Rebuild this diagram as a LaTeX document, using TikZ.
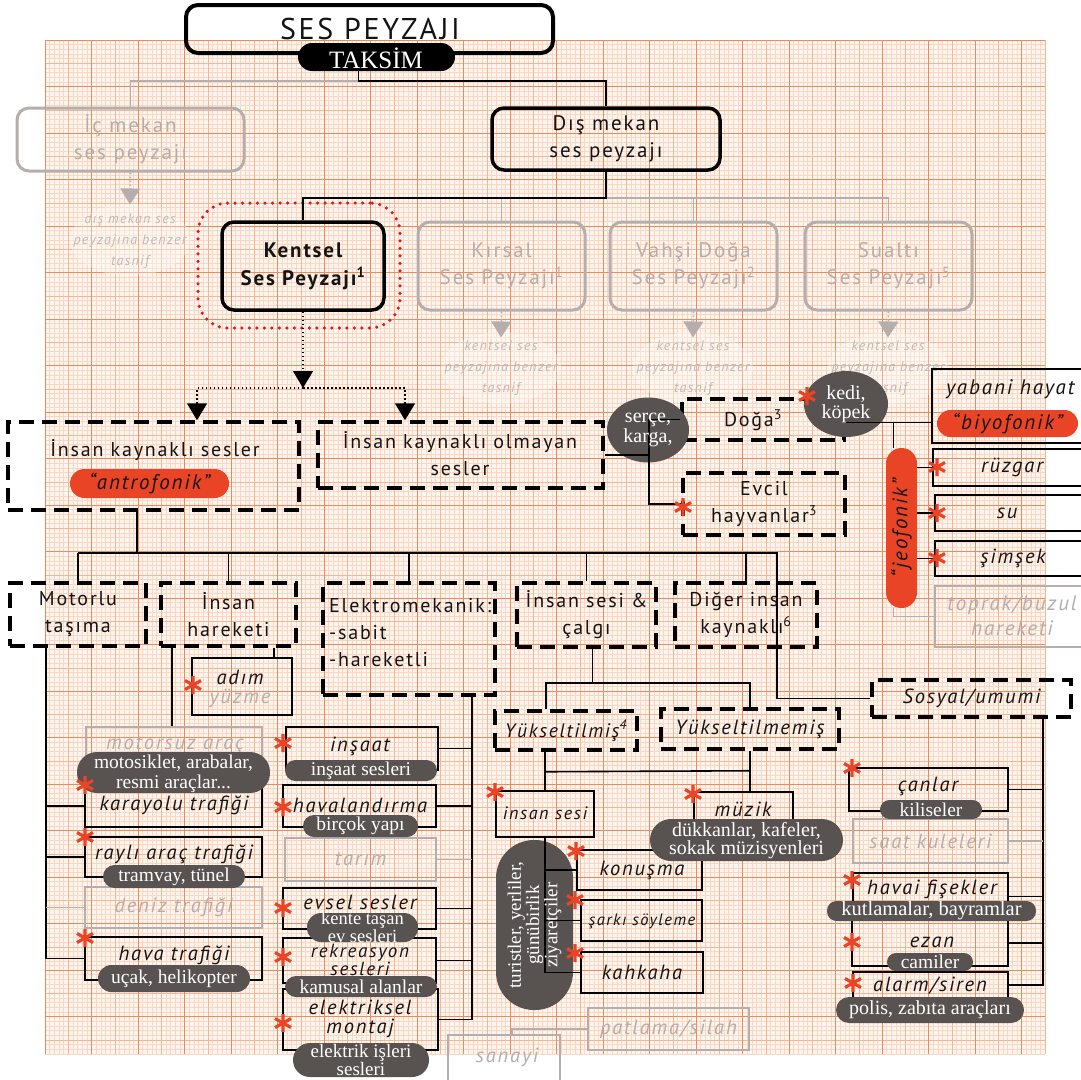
\documentclass[tikz,border=0pt]{standalone}
\usepackage{fontspec}
\setmainfont{PT Sans}[LetterSpace=9]
\newfontfamily\serifp{Liberation Serif}
\usetikzlibrary{fit,calc,shapes.geometric,arrows.meta}
\definecolor{gfine}{RGB}{250,214,195}
\definecolor{gmid}{RGB}{245,182,148}
\definecolor{gmaj}{RGB}{236,138,92}
\definecolor{gbg}{RGB}{254,245,239}
\definecolor{redor}{RGB}{233,68,38}
\definecolor{pillg}{RGB}{88,82,80}
\definecolor{fadeg}{RGB}{180,174,172}
\definecolor{hlred}{RGB}{222,22,32}
\tikzset{
  sbox/.style={draw=black, line width=1.8pt, inner sep=0pt},
  rbox/.style={draw=black, line width=3.5pt, rounded corners=12pt, inner sep=0pt},
  fbox/.style={draw=fadeg, line width=3pt, rounded corners=12pt, inner sep=0pt},
  dbox/.style={draw=black, line width=3.5pt, dash pattern=on 15pt off 8pt, inner sep=0pt},
  flbox/.style={draw=fadeg, line width=1.5pt, inner sep=0pt},
  gpill/.style={fill=pillg, inner sep=0pt},
  rpill/.style={fill=redor, inner sep=0pt},
  con/.style={draw=black, line width=1.6pt},
  fcon/.style={draw=fadeg, line width=1.6pt},
  dotarr/.style={draw=black, line width=1.6pt, dash pattern=on 1.5pt off 2.5pt, -{Triangle[width=20pt,length=17pt]}},
  fdotarr/.style={draw=fadeg, line width=1.6pt, dash pattern=on 1.5pt off 2.5pt, -{Triangle[width=20pt,length=16pt]}},
  tx/.style={inner sep=0pt, align=center, text=black!92, font=\fontsize{20}{27}\selectfont},
  fbx/.style={inner sep=0pt, align=center, text=fadeg, font=\fontsize{21}{27}\selectfont},
  ix/.style={inner sep=0pt, align=center, text=black!92, font=\fontsize{20.5}{21}\selectfont\itshape},
  fix/.style={inner sep=0pt, align=center, text=fadeg, font=\fontsize{20.5}{21}\selectfont\itshape},
  fsx/.style={inner sep=0pt, align=center, text=fadeg!85, font=\fontsize{14}{21}\selectfont\itshape},
  sx/.style={inner sep=0pt, align=center, text=white, font=\serifp\fontsize{19.5}{15}\selectfont},
  haze/.style={ellipse, fill=white, opacity=0.3, inner sep=0pt},
  astr/.pic={\draw[redor, line width=3.2pt] (0,-9)--(0,9) (-8,-4.5)--(8,4.5) (-8,4.5)--(8,-4.5);}
}
\begin{document}
\begin{tikzpicture}[x=1pt,y=-1pt]
\useasboundingbox (0,0) rectangle (1081,1079);
\clip (0,0) rectangle (1081,1079);
\fill[white] (0,0) rectangle (1081,1079);
% ---------------- graph paper
\fill[gbg] (45,40) rectangle (1045,1054);
\foreach \i in {0,...,215} \draw[gfine, line width=0.35pt] ({45+4.65*\i},40) -- ({45+4.65*\i},1054);
\foreach \j in {0,...,218} \draw[gfine, line width=0.35pt] (45,{40+4.65*\j}) -- (1045,{40+4.65*\j});
\foreach \i in {0,...,43} \draw[gmid, line width=0.5pt] ({45+23.25*\i},40) -- ({45+23.25*\i},1054);
\foreach \j in {0,...,43} \draw[gmid, line width=0.5pt] (45,{40+23.25*\j}) -- (1045,{40+23.25*\j});
\foreach \i in {0,...,21} \draw[gmaj, line width=0.8pt] ({45+46.5*\i},40) -- ({45+46.5*\i},1054);
\foreach \j in {0,...,21} \draw[gmaj, line width=0.8pt] (45,{40+46.5*\j}) -- (1045,{40+46.5*\j});

% ---------------- faded (greyed) branches
\node[fbox, fit={(17,108)(244,171)}] (ic) {};
\node[fbox, fit={(418,222)(585,310)}] (kirsal) {};
\node[fbox, fit={(610,222)(777,310)}] (vahsi) {};
\node[fbox, fit={(805,222)(972,310)}] (sualti) {};
\node[haze, minimum width=120pt, minimum height=72pt] (haze-ic) at (130,240) {};
\node[haze, minimum width=120pt, minimum height=72pt] (haze-k) at (501,368) {};
\node[haze, minimum width=120pt, minimum height=72pt] (haze-v) at (693,368) {};
\node[haze, minimum width=120pt, minimum height=72pt] (haze-s) at (888,368) {};
\node[fbx] (ic-t) at (ic.center) {İç mekan\\ses peyzajı};
\node[fbx] (kirsal-t) at (kirsal.center) {Kırsal\\Ses Peyzajı\textsuperscript{1}};
\node[fbx] (vahsi-t) at (vahsi.center) {Vahşi Doğa\\Ses Peyzajı\textsuperscript{2}};
\node[fbx] (sualti-t) at (sualti.center) {Sualtı\\Ses Peyzajı\textsuperscript{5}};
\node[fsx] (ic-n) at (130,241) {dış mekan ses\\peyzajına benzer\\tasnif};
\node[fsx] (kirsal-n) at (501,368) {kentsel ses\\peyzajına benzer\\tasnif};
\node[fsx] (vahsi-n) at (693,368) {kentsel ses\\peyzajına benzer\\tasnif};
\node[fsx] (sualti-n) at (888,368) {kentsel ses\\peyzajına benzer\\tasnif};
\draw[fdotarr] (ic.south) -- ([yshift=9pt]ic-n.north);
\draw[fdotarr] (kirsal.south) -- ([yshift=3pt]kirsal-n.north);
\draw[fdotarr] (vahsi.south) -- ([yshift=3pt]vahsi-n.north);
\draw[fdotarr] (sualti.south) -- ([yshift=3pt]sualti-n.north);

% faded leaves
\node[flbox, fit={(86,727)(262,770)}] (motorsuz) {};
\node[fix] (motorsuz-t) at (175,745) {motorsuz araç};
\node[flbox, fit={(85,887)(262,928)}] (deniz) {};
\node[fix] (deniz-t) at (deniz.center) {deniz trafiği};
\node[flbox, fit={(285,838)(436,881)}] (tarim) {};
\node[fix] (tarim-t) at (tarim.center) {tarım};
\node[flbox, fit={(853,819)(1008,863)}] (saat) {};
\node[fix] (saat-t) at (saat.center) {saat kuleleri};
\node[flbox, fit={(935,586)(1100,647)}] (toprak) {};
\node[fix, font=\fontsize{21}{25}\selectfont\itshape] (toprak-t) at (1012,616) {toprak/buzul\\hareketi};
\node[flbox, fit={(588,1008)(749,1050)}] (patlama) {};
\node[fix] (patlama-t) at (patlama.center) {patlama/silah};
\node[flbox, fit={(448,1035)(560,1095)}] (sanayi) {};
\node[fix] (sanayi-t) at (507,1057) {sanayi};

% ---------------- title
\node[rbox, line width=4pt, fit={(186,5)(553,53)}] (title) {};
\node[tx, font=\fontsize{30}{30}\selectfont] (title-t) at (370,29) {SES PEYZAJI};
\node[fill=black, rounded corners=14pt, inner sep=0pt, fit={(298,43)(455,71)}] (taksim) {};
\node[sx, font=\serifp\fontsize{25}{25}\selectfont] (taksim-t) at (376,58) {TAKSİM};

% ---------------- level 1-2
\node[rbox, fit={(492,108)(720,170)}] (dis) {};
\node[tx, font=\fontsize{21}{27}\selectfont] (dis-t) at (dis.center) {Dış mekan\\ses peyzajı};
\node[rbox, fit={(222,222)(384,310)}] (kentsel) {};
\node[tx, font=\fontsize{21}{28}\selectfont\bfseries] (kentsel-t) at (kentsel.center) {Kentsel\\Ses Peyzajı\textsuperscript{1}};
\node[draw=hlred, line width=3.5pt, dash pattern=on 0pt off 7.5pt, line cap=round, rounded corners=30pt, inner sep=0pt, fit={(198,203)(400,328)}] (kentsel-hl) {};

% ---------------- level 3
\node[dbox, fit={(8,422)(299,510)}] (ik) {};
\node[tx] (ik-t) at (155,450) {İnsan kaynaklı sesler};
\node[rpill, rounded corners=14.5pt, fit={(70,469)(229,498)}] (antro) {};
\node[ix, font=\fontsize{21}{21}\selectfont\itshape] (antro-t) at (antro.center) {“antrofonik”};
\node[dbox, fit={(318,422)(603,488)}] (iko) {};
\node[tx] (iko-t) at (460,454) {İnsan kaynaklı olmayan\\sesler};
\node[dbox, fit={(682,399)(844,440)}] (doga) {};
\node[tx] (doga-t) at (753,420) {Doğa\textsuperscript{3}};
\node[dbox, fit={(683,473)(845,535)}] (evcil) {};
\node[tx] (evcil-t) at (764,504) {Evcil\\hayvanlar\textsuperscript{3}};
\node[ellipse, fill=pillg, minimum width=82pt, minimum height=65pt, inner sep=0pt] (serce) at (648,430) {};
\node[ellipse, fill=pillg, minimum width=84pt, minimum height=66pt, inner sep=0pt] (kedi) at (846,404) {};
\node[sbox, fit={(932,369)(1100,443)}] (yabani) {};
\node[ix, font=\fontsize{21}{21}\selectfont\itshape, anchor=west] (yabani-t) at (946,389) {yabani hayat};
\node[rpill, rounded corners=13.5pt, fit={(937,410)(1078,437)}] (biyo) {};
\node[ix, font=\fontsize{21}{21}\selectfont\itshape] (biyo-t) at (biyo.center) {“biyofonik”};
\node[rpill, rounded corners=15.5pt, fit={(886,448)(917,608)}] (jeo) {};
\node[ix, font=\fontsize{21}{21}\selectfont\itshape, rotate=90] (jeo-t) at (jeo.center) {“jeofonik”};
\node[sbox, fit={(933,449)(1100,486)}] (ruzgar) {};
\node[ix] (ruzgar-t) at (1012,467) {rüzgar};
\node[sbox, fit={(935,495)(1100,531)}] (su) {};
\node[ix] (su-t) at (1007,513) {su};
\node[sbox, fit={(935,541)(1100,576)}] (simsek) {};
\node[ix] (simsek-t) at (1013,558) {şimşek};

% ---------------- level 4
\node[dbox, fit={(10,583)(146,646)}] (motorlu) {};
\node[tx] (motorlu-t) at (motorlu.center) {Motorlu\\taşıma};
\node[dbox, fit={(161,583)(296,646)}] (hareket) {};
\node[tx] (hareket-t) at (hareket.center) {İnsan\\hareketi};
\node[dbox, fit={(323,583)(495,695)}] (elektro) {};
\node[tx, align=left, anchor=west] (elektro-t) at (329,633) {Elektromekanik:\\-sabit\\-hareketli};
\node[dbox, fit={(517,583)(656,647)}] (insesi) {};
\node[tx] (insesi-t) at (insesi.center) {İnsan sesi \&\\çalgı};
\node[dbox, fit={(675,583)(817,647)}] (diger) {};
\node[tx] (diger-t) at (diger.center) {Diğer insan\\kaynaklı\textsuperscript{6}};
\node[dbox, fit={(872,680)(1071,717)}] (sosyal) {};
\node[ix] (sosyal-t) at (sosyal.center) {Sosyal/umumi};
\node[dbox, fit={(495,711)(637,750)}] (yuk) {};
\node[ix, font=\fontsize{19.5}{21}\selectfont\itshape] (yuk-t) at (yuk.center) {Yükseltilmiş\textsuperscript{4}};
\node[dbox, fit={(661,709)(839,749)}] (yukm) {};
\node[ix] (yukm-t) at (yukm.center) {Yükseltilmemiş};

% ---------------- leaves
\node[sbox, fit={(192,658)(292,715)}] (adim) {};
\node[sbox, fit={(85,785)(262,827)}] (karayolu) {};
\node[sbox, fit={(85,837)(262,877)}] (rayli) {};
\node[sbox, fit={(85,937)(262,980)}] (hava) {};
\node[sbox, fit={(286,727)(438,770)}] (insaat) {};
\node[sbox, fit={(283,785)(436,827)}] (havaland) {};
\node[sbox, fit={(283,888)(436,929)}] (evsel) {};
\node[sbox, fit={(283,938)(436,983)}] (rekre) {};
\node[sbox, fit={(283,989)(438,1050)}] (elekt) {};
\node[sbox, fit={(496,791)(594,837)}] (insan) {};
\node[sbox, fit={(694,792)(793,830)}] (muzik) {};
\node[sbox, fit={(577,850)(702,890)}] (konusma) {};
\node[sbox, fit={(581,900)(702,941)}] (sarki) {};
\node[sbox, fit={(581,952)(703,993)}] (kahkaha) {};
\node[sbox, fit={(849,768)(1008,811)}] (canlar) {};
\node[sbox, fit={(853,873)(1008,920)}] (havai) {};
\node[sbox, fit={(852,920)(1008,966)}] (ezan) {};
\node[sbox, fit={(853,972)(1008,1010)}] (alarm) {};

% ---------------- connectors
\coordinate (tk) at ([xshift=-18pt]taksim.south);
\coordinate (tk2) at ([yshift=-10pt]tk);
\draw[fcon] (tk2) -| (ic.north);
\draw[con] (tk) -- (tk2) -| (dis.north);
\coordinate (ds) at ([yshift=-26pt]dis.south);
\draw[fcon] (ds) -| (sualti.north);
\draw[fcon] (kirsal.north |- ds) -- (kirsal.north);
\draw[fcon] (vahsi.north |- ds) -- (vahsi.north);
\draw[con] (dis.south) -- (ds) -| (kentsel.north);
\coordinate (split) at (kentsel.south |- 0,388);
\draw[dotarr] (kentsel.south) -- (split);
\draw[dotarr] (split) -| ([xshift=43.5pt]ik.north);
\draw[dotarr] (split) -| ([xshift=-55.5pt]iko.north);

\coordinate (nb) at ([xshift=44pt]iko.east);
\draw[con] (iko.east) -- (nb) |- (doga.west);
\draw[con] (nb) |- (evcil.west);
\draw[con] ([yshift=-3pt]doga.east) -- ([yshift=-3pt]doga.east -| yabani.west);
\draw[con] ([xshift=-8pt,yshift=-3pt]doga.east -| jeo.north) -- ([xshift=-8pt]jeo.north);
\draw[con] (ruzgar.west -| jeo.east) -- (ruzgar.west);
\draw[con] (su.west -| jeo.east) -- (su.west);
\draw[con] (simsek.west -| jeo.east) -- (simsek.west);
\draw[fcon] ([xshift=-8pt]jeo.south) |- (toprak.west);

\coordinate (bus) at ([xshift=-16.5pt,yshift=28pt]ik.south |- motorlu.north);
\coordinate (busend) at ([xshift=31pt]diger.north |- bus);
\draw[con] ([xshift=-16.5pt]ik.south) -- (bus);
\draw[con] (motorlu.north |- bus) -- (busend) |- (sosyal.west);
\foreach \n in {motorlu,hareket,elektro,insesi,diger} \draw[con] (\n.north |- bus) -- (\n.north);

\coordinate (mtop) at ([xshift=-32pt]motorlu.south);
\draw[con] (mtop) |- (hava.west);
\draw[con] (mtop |- karayolu.west) -- (karayolu.west);
\draw[con] (mtop |- rayli.west) -- (rayli.west);
\draw[fcon] (mtop |- deniz.west) -- (deniz.west);
\draw[con] ([xshift=-56.5pt]hareket.south) -- ([xshift=-56.5pt]hareket.south |- motorsuz.north);
\draw[con] ([xshift=45.5pt]hareket.south) -- ([xshift=32pt]adim.north);

\coordinate (etop) at ([xshift=63pt]elektro.south);
\draw[con] (etop) |- (elekt.east);
\foreach \n in {insaat,havaland,evsel,rekre} \draw[con] (\n.east) -- (\n.east -| etop);
\draw[fcon] (tarim.east) -- (tarim.east -| etop);

\coordinate (iv) at ([xshift=6pt,yshift=-34pt]insesi.south);
\draw[con] ([xshift=6pt]insesi.south) -- (iv);
\draw[con] ([xshift=-20pt]yuk.north) |- (iv) -| (yukm.north);
\draw[con] (insan.north |- yuk.south) -- (insan.north);
\draw[con] (yukm.south) -- (yukm.south |- muzik.north);
\draw[con] ([yshift=-20pt]insan.north |- yuk.south) -- ([yshift=-20pt]yukm.south);

\coordinate (stop) at ([xshift=71.5pt]sosyal.south);
\draw[con] (stop) |- ([yshift=6pt]alarm.east);
\foreach \n in {canlar,havai,ezan} \draw[con] (\n.east) -- (\n.east -| stop);
\draw[fcon] (saat.east) -- (saat.east -| stop);

\draw[fcon] (patlama.west) -| ([xshift=8pt]sanayi.north);

% ---------------- pills
\node[gpill, rounded corners=20pt, fit={(77,752)(270,793)}] (p-motor) {};
\node[gpill, rounded corners=11.5pt, fit={(103,865)(245,888)}] (p-rayli) {};
\node[gpill, rounded corners=13.5pt, fit={(98,965)(250,992)}] (p-hava) {};
\node[gpill, rounded corners=10.5pt, fit={(285,760)(437,781)}] (p-insaat) {};
\node[gpill, rounded corners=11pt, fit={(303,815)(418,837)}] (p-havaland) {};
\node[gpill, rounded corners=14pt, fit={(307,913)(418,942)}] (p-evsel) {};
\node[gpill, rounded corners=11pt, fit={(285,976)(437,997)}] (p-rekre) {};
\node[gpill, rounded corners=17pt, fit={(293,1043)(429,1077)}] (p-elekt) {};
\node[gpill, rounded corners=38pt, fit={(496,840)(573,1010)}] (p-turist) {};
\node[gpill, rounded corners=21pt, fit={(650,819)(843,861)}] (p-muzik) {};
\node[gpill, rounded corners=9.5pt, fit={(880,800)(982,819)}] (p-canlar) {};
\node[gpill, rounded corners=9.5pt, fit={(827,901)(1036,921)}] (p-havai) {};
\node[gpill, rounded corners=9pt, fit={(887,953)(973,971)}] (p-ezan) {};
\node[gpill, rounded corners=13pt, fit={(836,997)(1024,1023)}] (p-alarm) {};

% connectors drawn over the visitor pill
\draw[con] (insan.south) -- (insan.south |- kahkaha.west) -- (kahkaha.west);
\draw[con] (insan.south |- konusma.west) -- (konusma.west);
\draw[con] (insan.south |- sarki.west) -- (sarki.west);

% ---------------- pill texts
\node[sx, font=\serifp\fontsize{20}{20}\selectfont] (serce-t) at (648,430) {serçe,\\karga,};
\node[sx, font=\serifp\fontsize{20}{19}\selectfont] (kedi-t) at (846,404) {kedi,\\köpek};
\node[sx, font=\serifp\fontsize{19.5}{20}\selectfont] (p-motor-t) at ([yshift=-1pt]p-motor.center) {motosiklet, arabalar,\\resmi araçlar...};
\node[sx] (p-rayli-t) at (p-rayli.center) {tramvay, tünel};
\node[sx] (p-hava-t) at (p-hava.center) {uçak, helikopter};
\node[sx] (p-insaat-t) at (p-insaat.center) {inşaat sesleri};
\node[sx] (p-havaland-t) at (p-havaland.center) {birçok yapı};
\node[sx, font=\serifp\fontsize{18.5}{13.5}\selectfont] (p-evsel-t) at (p-evsel.center) {kente taşan\\ev sesleri};
\node[sx] (p-rekre-t) at (p-rekre.center) {kamusal alanlar};
\node[sx, font=\serifp\fontsize{19}{13.5}\selectfont] (p-elekt-t) at (p-elekt.center) {elektrik işleri\\sesleri};
\node[sx, font=\serifp\fontsize{19}{16}\selectfont, rotate=90] (p-turist-t) at (p-turist.center) {turistler, yerliler,\\günübirlik\\ziyaretçiler};
\node[sx, font=\serifp\fontsize{20}{14.5}\selectfont] (p-muzik-t) at ([yshift=-1pt]p-muzik.center) {dükkanlar, kafeler,\\sokak müzisyenleri};
\node[sx] (p-canlar-t) at (p-canlar.center) {kiliseler};
\node[sx, font=\serifp\fontsize{20.5}{15}\selectfont] (p-havai-t) at (p-havai.center) {kutlamalar, bayramlar};
\node[sx] (p-ezan-t) at (p-ezan.center) {camiler};
\node[sx, font=\serifp\fontsize{20}{15}\selectfont] (p-alarm-t) at (p-alarm.center) {polis, zabıta araçları};

% ---------------- leaf texts
\node[ix] (adim-t) at (240,677) {adım};
\node[fix] (adim-t2) at (240,698) {yüzme};
\node[ix] (karayolu-t) at (174,805) {karayolu trafiği};
\node[ix] (rayli-t) at (174,854) {raylı araç trafiği};
\node[ix] (hava-t) at (174,955) {hava trafiği};
\node[ix] (insaat-t) at (360,746) {inşaat};
\node[ix] (havaland-t) at (360,805) {havalandırma};
\node[ix] (evsel-t) at (360,902) {evsel sesler};
\node[ix, font=\fontsize{19}{17}\selectfont\itshape] (rekre-t) at (360,960) {rekreasyon\\sesleri};
\node[ix, font=\fontsize{20.5}{19}\selectfont\itshape] (elekt-t) at (360,1019) {elektriksel\\montaj};
\node[ix, font=\fontsize{18}{21}\selectfont\itshape] (insan-t) at (545,813) {insan sesi};
\node[ix] (muzik-t) at (743,809) {müzik};
\node[ix] (konusma-t) at (642,870) {konuşma};
\node[ix, font=\fontsize{16.5}{21}\selectfont\itshape] (sarki-t) at (642,921) {şarkı söyleme};
\node[ix] (kahkaha-t) at (642,972) {kahkaha};
\node[ix] (canlar-t) at (928,786) {çanlar};
\node[ix] (havai-t) at (932,889) {havai fişekler};
\node[ix] (ezan-t) at (932,942) {ezan};
\node[ix] (alarm-t) at (930,986) {alarm/siren};

% ---------------- asterisks
\foreach \p in {(683,507),(807,396),(937,467),(937,513),(937,558),(193,685),(85,785),(85,837),(85,938),(283,743),(283,807),(283,908),(283,957),(283,1023),(495,792),(693,794),(576,851),(575,900),(575,953),(852,768),(852,880),(852,942),(853,983)}
  \pic at \p {astr};
\end{tikzpicture}
\end{document}
